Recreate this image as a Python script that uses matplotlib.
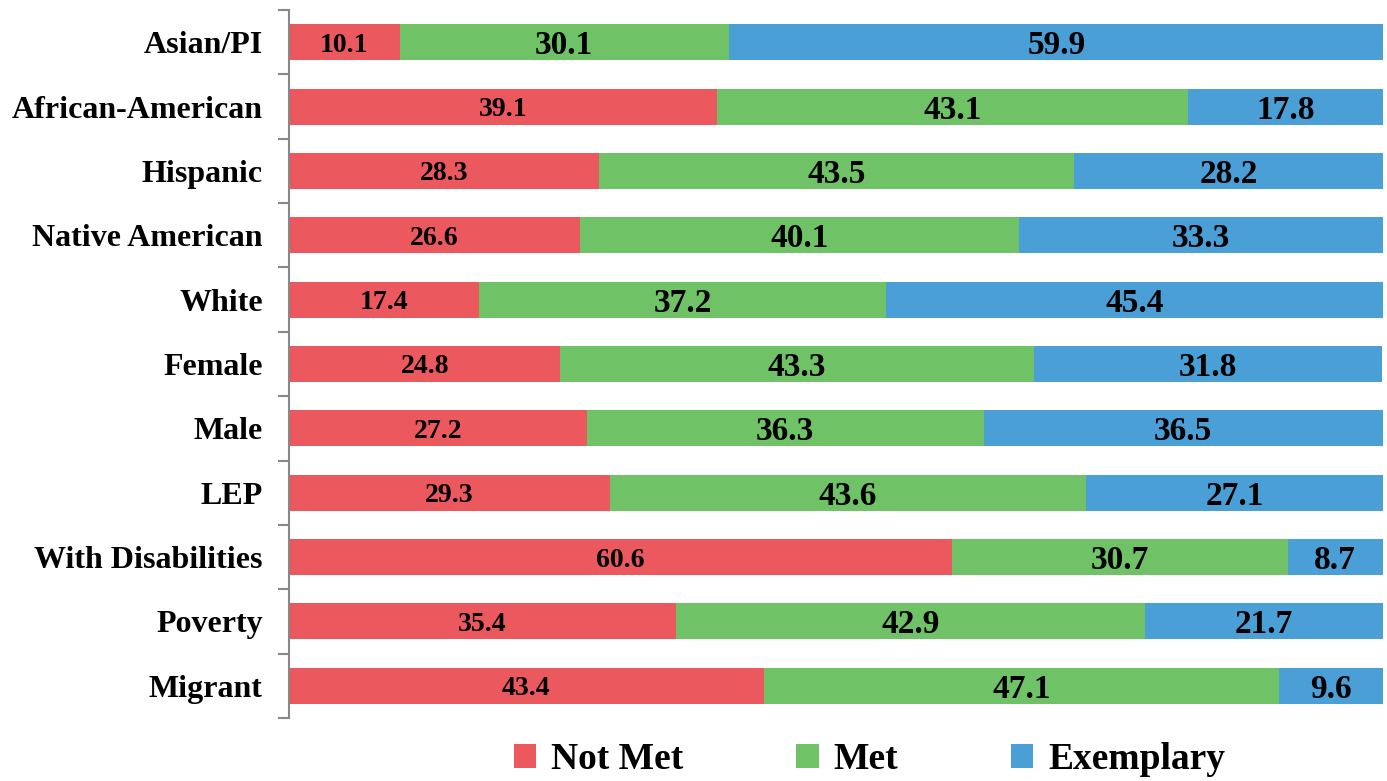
import numpy as np
import matplotlib
matplotlib.use("Agg")
import matplotlib.pyplot as plt
from matplotlib.ticker import FixedLocator

# Datos
categorias = ["Asian/PI", "African-American", "Hispanic", "Native American", "White",
              "Female", "Male", "LEP", "With Disabilities", "Poverty", "Migrant"]
not_met = [10.1, 39.1, 28.3, 26.6, 17.4, 24.8, 27.2, 29.3, 60.6, 35.4, 43.4]
met = [30.1, 43.1, 43.5, 40.1, 37.2, 43.3, 36.3, 43.6, 30.7, 42.9, 47.1]
exemplary = [59.9, 17.8, 28.2, 33.3, 45.4, 31.8, 36.5, 27.1, 8.7, 21.7, 9.6]

series = ["Not Met", "Met", "Exemplary"]
colores = ["#EB585E", "#6FC366", "#4A9FD6"]

plt.rcParams["font.family"] = ["Liberation Serif", "DejaVu Serif"]
plt.rcParams["font.weight"] = "bold"

fig = plt.figure(figsize=(13.87, 7.81), dpi=100)
ax = fig.add_axes([0.2084, 0.0807, 0.7886, 0.9065])

y = np.arange(len(categorias))
left = np.zeros(len(categorias))
valores = [not_met, met, exemplary]
for i, (nombre, vals, col) in enumerate(zip(series, valores, colores)):
    bars = ax.barh(y, vals, left=left, height=0.56, color=col, label=nombre)
    for b, v, l in zip(bars, vals, left):
        size = 20 if i == 0 else 24
        ax.text(l + v / 2, b.get_y() + b.get_height() / 2, f"{v:.1f}",
                ha="center", va="center_baseline", fontsize=size, fontweight="bold",
                color="black")
    left = left + np.array(vals)

ax.set_xlim(0, 100)
ax.set_ylim(len(categorias) - 0.5, -0.5)
ax.set_yticks(y)
ax.set_yticklabels(categorias, fontsize=23, fontweight="bold")
ax.yaxis.set_minor_locator(FixedLocator(np.arange(-0.5, len(categorias), 1)))
ax.tick_params(axis="y", which="major", length=0, pad=19)
ax.tick_params(axis="y", which="minor", length=8, color="#888888", width=1.5)
ax.set_xticks([])
for s in ["top", "right", "bottom"]:
    ax.spines[s].set_visible(False)
ax.spines["left"].set_color("#888888")
ax.spines["left"].set_linewidth(1.5)

leg = fig.legend(loc="center", bbox_to_anchor=(0.627, 0.027), ncol=3, frameon=False,
                 prop={"size": 27, "weight": "bold"}, handlelength=0.6,
                 handleheight=0.6, handletextpad=0.4, columnspacing=3.0)

fig.savefig("out.png", dpi=100)
